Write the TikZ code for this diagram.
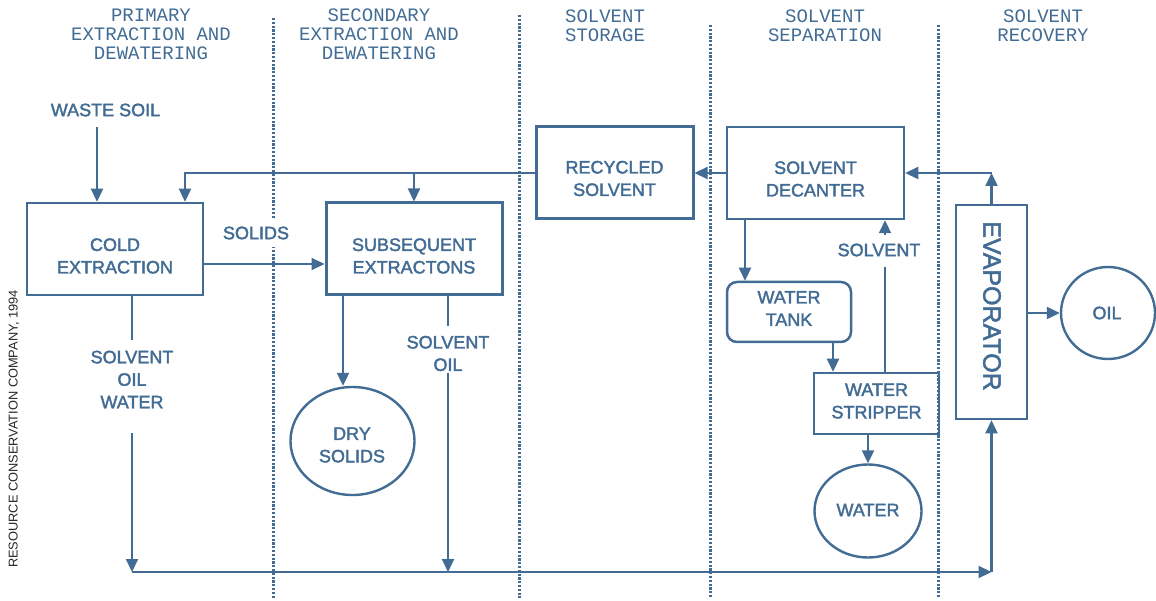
\documentclass[tikz,border=0pt]{standalone}
\usepackage{fontspec}
\setmainfont{Liberation Sans}
\newfontfamily\monof{Liberation Mono}
\newfontfamily\lblf[FakeBold=2]{Liberation Sans}
\usetikzlibrary{arrows.meta,shapes.geometric,calc}
\definecolor{ink}{RGB}{66,108,148}
\begin{document}
\begin{tikzpicture}[x=1pt,y=-1pt,
  box/.style={draw=ink,line width=2.5pt,inner sep=0pt},
  lbl/.style={text=ink,font=\lblf\fontsize{18}{22.5}\selectfont,align=center,inner sep=0pt},
  hdr/.style={text=ink,font=\monof\fontsize{19}{19}\selectfont,align=center,inner sep=0pt},
  arr/.style={draw=ink,line width=2.2pt,-{Triangle[length=13pt,width=12pt]}},
  ln/.style={draw=ink,line width=2.2pt},
  dotline/.style={draw=ink,line width=3pt,dash pattern=on 2.2pt off 1.6pt},
  blob/.style={draw=ink,line width=2.4pt,ellipse,inner sep=0pt}]
\useasboundingbox (0,0) rectangle (1156,601);

% swimlane separators
\draw[dotline] (273,18) -- (273,598);
\draw[dotline] (519,15) -- (519,598);
\draw[dotline] (710,25) -- (710,598);
\draw[dotline] (938,25) -- (938,598);

% headers
\node[hdr] (h1) at (151,34) {PRIMARY\\EXTRACTION AND\\DEWATERING};
\node[hdr] (h2) at (379,34) {SECONDARY\\EXTRACTION AND\\DEWATERING};
\node[hdr] (h3) at (605,25.5) {SOLVENT\\STORAGE};
\node[hdr] (h4) at (825,25.5) {SOLVENT\\SEPARATION};
\node[hdr] (h5) at (1043,25.5) {SOLVENT\\RECOVERY};

% boxes
\node[box,minimum width=176pt,minimum height=92pt] (cold) at (115,249) {};
\node[lbl] (coldt) at (115,256) {COLD\\EXTRACTION};
\node[box,line width=3pt,minimum width=176pt,minimum height=92pt] (sub) at (414,249) {};
\node[lbl] (subt) at (414,256) {SUBSEQUENT\\EXTRACTONS};
\node[box,line width=3pt,minimum width=157pt,minimum height=92pt] (recy) at (614.5,173) {};
\node[lbl] (recyt) at (614.5,178.5) {RECYCLED\\SOLVENT};
\node[box,minimum width=177pt,minimum height=92pt] (dec) at (815.5,173) {};
\node[lbl] (dect) at (815.5,179) {SOLVENT\\DECANTER};
\node[box,rounded corners=10pt,minimum width=124pt,minimum height=60pt] (tank) at (789,312) {};
\node[lbl] (tankt) at (789,308.5) {WATER\\TANK};
\node[box,minimum width=125pt,minimum height=61pt] (strip) at (876.5,403.5) {};
\node[lbl] (stript) at (876.5,401) {WATER\\STRIPPER};
\node[box,minimum width=71pt,minimum height=214pt] (evap) at (991.5,312) {};
\node[lbl,font=\lblf\fontsize{25}{25}\selectfont,rotate=-90] (evapt) at (992,306) {EVAPORATOR};

% ellipses
\node[blob,minimum width=124pt,minimum height=108pt] (dry) at (352.5,441) {};
\node[lbl] (dryt) at (352,445) {DRY\\SOLIDS};
\node[blob,minimum width=107pt,minimum height=93pt] (water) at (868,511) {};
\node[lbl] (watert) at (868,510) {WATER};
\node[blob,minimum width=94pt,minimum height=92pt] (oil) at (1108,313) {};
\node[lbl] (oilt) at (1107,313) {OIL};

% stream labels
\node[lbl] (waste) at (105.5,110) {WASTE SOIL};
\node[lbl,fill=white,inner ysep=8pt,inner xsep=0pt] (solids) at (256,233) {SOLIDS};
\node[lbl] (sow) at (132,379.5) {SOLVENT\\OIL\\WATER};
\node[lbl] (so) at (448,353.5) {SOLVENT\\OIL};
\node[lbl] (solv) at (879,250) {SOLVENT};

% credit
\node[font=\fontsize{12.8}{13}\selectfont,text=black!85,rotate=90,inner sep=0pt] (credit) at (14,429) {RESOURCE CONSERVATION COMPANY, 1994};

% connectors
\coordinate (p1) at ([xshift=-18pt]cold.north);
\draw[arr,shorten <=10pt] (p1 |- waste.south) -- (p1);
\coordinate (p2) at ([xshift=70pt]cold.north);
\draw[arr] (recy.west) -| (p2);
\draw[arr] (recy.west -| sub.north) -- (sub.north);
\draw[arr] ([yshift=-15pt]cold.east) -- ([yshift=-15pt]cold.east -| sub.west);

\coordinate (p3) at ([xshift=17pt]cold.south);
\coordinate (bl) at (p3 |- 0,572);
\draw[ln,shorten >=10.5pt] (p3) -- (p3 |- sow.north);
\draw[arr,shorten <=24.5pt] (p3 |- sow.south) -- (bl);
\coordinate (br) at (evap.south |- bl);
\draw[arr] (bl) -- (br);
\draw[arr] (br) -- (evap.south);

\coordinate (p4) at ([xshift=34pt]sub.south);
\draw[ln,shorten >=9.7pt] (p4) -- (p4 |- so.north);
\draw[arr,shorten <=1.7pt] (p4 |- so.south) -- (p4 |- bl);
\coordinate (p5) at ([xshift=-71pt]sub.south);
\draw[arr] (p5) -- (p5 |- dry.north);

\draw[arr] (dec.west) -- (recy.east);
\coordinate (p6) at (evap.north |- dec.east);
\draw[arr] (evap.north) -- (p6);
\draw[arr] (p6) -- (dec.east);
\coordinate (p7) at ([xshift=-70.5pt]dec.south);
\draw[arr] (p7) -- (p7 |- tank.north);
\coordinate (p8) at ([xshift=44pt]tank.south);
\draw[arr] (p8) -- (p8 |- strip.north);
\coordinate (p9) at ([xshift=8.5pt]strip.north);
\draw[ln,shorten >=10.5pt] (p9) -- (p9 |- solv.south);
\draw[arr,shorten <=8.5pt] (p9 |- solv.north) -- (p9 |- dec.south);
\draw[arr] (strip.south -| water.north) -- (water.north);
\draw[arr] (evap.east |- oil.west) -- (oil.west);
\end{tikzpicture}
\end{document}
